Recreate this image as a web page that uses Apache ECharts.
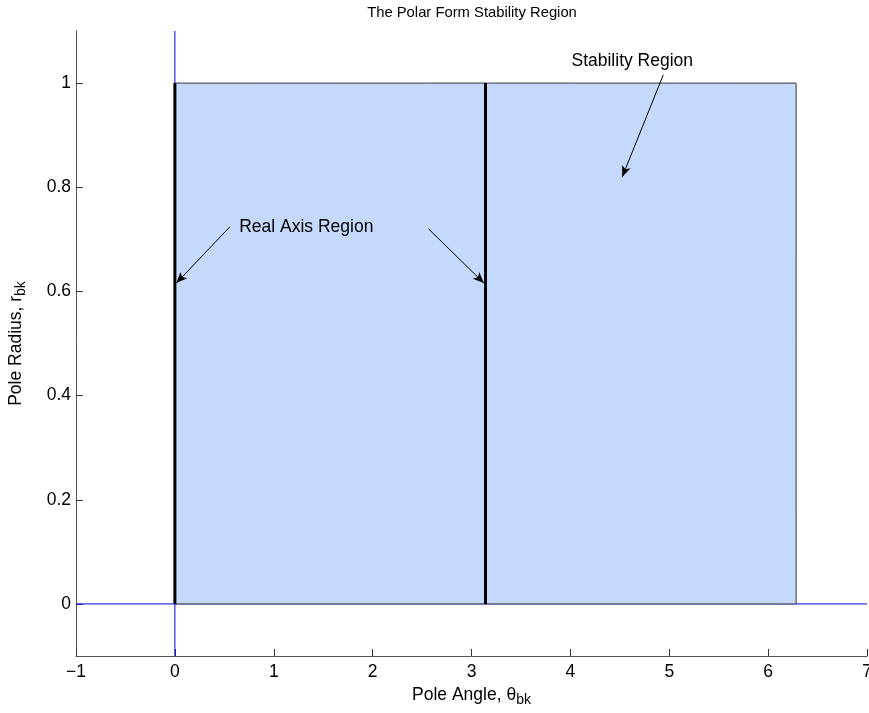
<!DOCTYPE html>
<html>
<head>
<meta charset="utf-8">
<script src="https://cdn.jsdelivr.net/npm/echarts@6/dist/echarts.min.js"></script>
<style>
  html, body { margin: 0; padding: 0; background: #fff; }
  #chart { width: 869px; height: 713px; }
</style>
</head>
<body>
<div id="chart"></div>
<script>
// Axis ranges and ticks
const xRange = [-1, 7];
const yRange = [-0.1, 1.1];
const xTicks = [-1, 0, 1, 2, 3, 4, 5, 6, 7];
const yTicks = [0, 0.2, 0.4, 0.6, 0.8, 1];

// Stable pole region: angle 0..2π, radius 0..1
const regionAngle = [0, 2 * Math.PI];
const regionRadius = [0, 1];

// Real-axis pole angles (thick lines)
const realAxisAngles = [0, Math.PI];

// Annotation arrows: [start, tip] in (angle, radius)
const stabilityArrow = [[4.94, 1.016], [4.525, 0.82]];
const realAxisArrows = [
  [[0.556, 0.724], [0.015, 0.616]],
  [[2.566, 0.72], [3.125, 0.616]]
];
// Annotation labels: [angle, radius, text]
const stabilityLabel = [4.626, 1.043, 'Stability Region'];
const realAxisLabel = [0.65, 0.724, 'Real Axis Region'];

const FONT = 'Liberation Sans, Arial, Helvetica, sans-serif';
const FS = 17.5;
const TITLE_FS = 14.8;
const chart = echarts.init(document.getElementById('chart'));

function arrowLine(pair) {
  return [{ coord: pair[0] }, { coord: pair[1] }];
}

const option = {
  animation: false,
  backgroundColor: '#fff',
  textStyle: { fontFamily: FONT },
  graphic: [{
    type: 'text', x: 472, y: 13, silent: true,
    style: {
      text: 'The Polar Form Stability Region',
      font: TITLE_FS + 'px ' + FONT, fill: '#000',
      textAlign: 'center', textVerticalAlign: 'middle'
    }
  }],
  grid: { left: 76, top: 31, width: 791, height: 625, containLabel: false, outerBoundsMode: 'none' },
  xAxis: {
    type: 'value', min: xRange[0], max: xRange[1], interval: 1,
    axisLine: { show: true, onZero: false, lineStyle: { color: '#555', width: 1 } },
    axisTick: { show: true, inside: true, length: 7, lineStyle: { color: '#333' }, customValues: xTicks },
    axisLabel: {
      customValues: xTicks, hideOverlap: false,
      fontFamily: FONT, fontSize: FS, color: '#000', margin: 7,
      formatter: v => (v < 0 ? '\u2212' + Math.abs(v) : String(v))
    },
    splitLine: { show: false },
    name: '{n|Pole Angle, \u03b8}{s|bk}',
    nameLocation: 'middle', nameGap: 27,
    nameTextStyle: {
      rich: {
        n: { fontFamily: FONT, fontSize: FS, color: '#000' },
        s: { fontFamily: FONT, fontSize: 14, color: '#000', padding: [10, 0, 0, 0] }
      }
    }
  },
  yAxis: {
    type: 'value', min: yRange[0], max: yRange[1],
    axisLine: { show: true, onZero: false, lineStyle: { color: '#555', width: 1 } },
    axisTick: { show: true, inside: true, length: 7, lineStyle: { color: '#333' }, customValues: yTicks },
    axisLabel: {
      customValues: yTicks, hideOverlap: false,
      fontFamily: FONT, fontSize: FS, color: '#000', margin: 5,
      formatter: v => String(Math.round(v * 10) / 10)
    },
    splitLine: { show: false },
    name: '{n|Pole Radius, r}{s|bk}',
    nameLocation: 'middle', nameGap: 48, nameRotate: 90,
    nameTextStyle: {
      rich: {
        n: { fontFamily: FONT, fontSize: FS, color: '#000' },
        s: { fontFamily: FONT, fontSize: 14, color: '#000', padding: [10, 0, 0, 0] }
      }
    }
  },
  series: [
    // Blue reference axes through the origin
    {
      type: 'line', data: [[0, yRange[0]], [0, yRange[1]]],
      showSymbol: false, silent: true, z: 1,
      lineStyle: { color: '#0000ff', width: 1 }
    },
    {
      type: 'line', data: [[xRange[0], 0], [xRange[1], 0]],
      showSymbol: false, silent: true, z: 1,
      lineStyle: { color: '#0000ff', width: 1 }
    },
    // Stability region rectangle
    {
      type: 'custom', z: 2, silent: true,
      data: [[regionAngle[0], regionRadius[0], regionAngle[1], regionRadius[1]]],
      renderItem: function (params, api) {
        const p0 = api.coord([api.value(0), api.value(1)]);
        const p1 = api.coord([api.value(2), api.value(3)]);
        return {
          type: 'polygon',
          shape: { points: [[p0[0], p0[1]], [p1[0], p0[1]], [p1[0], p1[1]], [p0[0], p1[1]]] },
          style: { fill: '#c5d9fc', stroke: '#3a3a3a', lineWidth: 1 }
        };
      }
    },
    // Thick real-axis lines
    ...realAxisAngles.map(a => ({
      type: 'line', data: [[a, regionRadius[0]], [a, regionRadius[1]]],
      showSymbol: false, silent: true, z: 3,
      lineStyle: { color: '#000', width: 3 }
    })),
    // Annotations
    {
      type: 'line', data: [], z: 4, silent: true,
      markLine: {
        silent: true, animation: false,
        symbol: ['none', 'arrow'], symbolSize: [7, 11],
        label: { show: false },
        lineStyle: { color: '#000', width: 1, type: 'solid' },
        emphasis: { disabled: true },
        data: [arrowLine(stabilityArrow), ...realAxisArrows.map(arrowLine)]
      },
      markPoint: {
        silent: true, symbol: 'circle', symbolSize: 0,
        label: { show: true, fontFamily: FONT, fontSize: FS, color: '#000', position: 'inside' },
        data: [
          { coord: [stabilityLabel[0], stabilityLabel[1]], value: stabilityLabel[2],
            label: { formatter: stabilityLabel[2], align: 'center', verticalAlign: 'middle' } },
          { coord: [realAxisLabel[0], realAxisLabel[1]], value: realAxisLabel[2],
            label: { formatter: realAxisLabel[2], align: 'left', verticalAlign: 'middle' } }
        ]
      }
    }
  ]
};

chart.setOption(option);
</script>
</body>
</html>
